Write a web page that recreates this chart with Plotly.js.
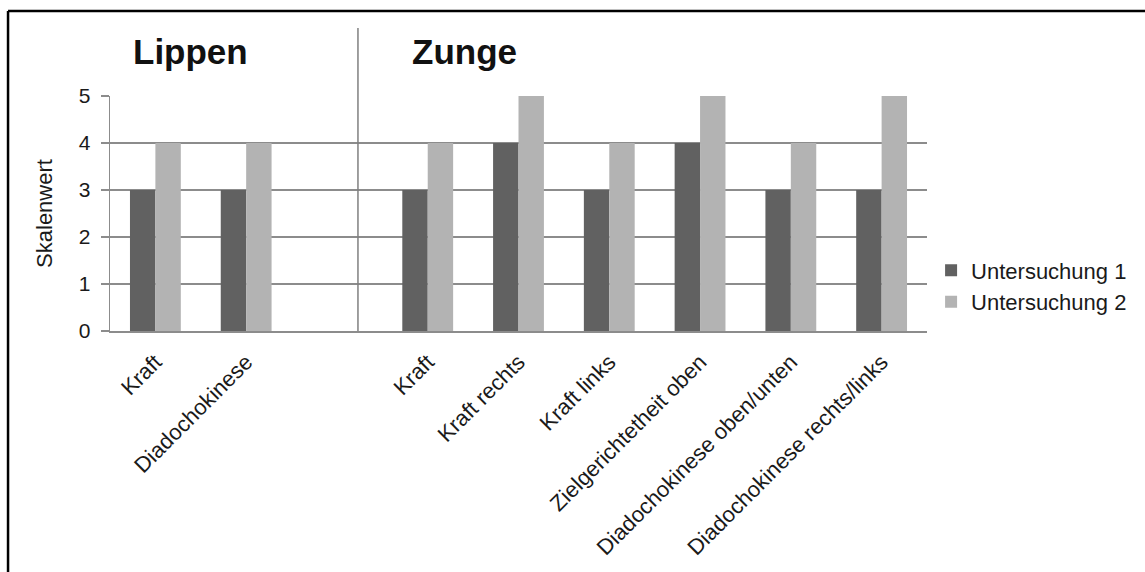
<!DOCTYPE html>
<html>
<head>
<meta charset="utf-8">
<script src="https://cdn.plot.ly/plotly-3.0.1.min.js"></script>
<style>
  html, body { margin: 0; padding: 0; background: #ffffff; }
  #chart { width: 1145px; height: 572px; }
</style>
</head>
<body>
<div id="chart"></div>
<script>
// ---- data ----
const categories = ["Kraft", "Diadochokinese", "", "Kraft", "Kraft rechts", "Kraft links",
                    "Zielgerichtetheit oben", "Diadochokinese oben/unten", "Diadochokinese rechts/links"];
const untersuchung1 = [3, 3, null, 3, 4, 3, 4, 3, 3];
const untersuchung2 = [4, 4, null, 4, 5, 4, 5, 4, 5];
const seriesNames = ["Untersuchung 1", "Untersuchung 2"];
const groupTitles = ["Lippen", "Zunge"];
const yTicks = [0, 1, 2, 3, 4, 5];

const xIdx = categories.map((c, i) => i);

const FONT = "Arial, 'Liberation Sans', sans-serif";
const GRID = "#8c8c8c";
const TXT = "#1a1a1a";

const traces = [
  { type: "bar", name: seriesNames[0], x: xIdx, y: untersuchung1,
    marker: { color: "#616161", line: { width: 0 } }, hoverinfo: "y" },
  { type: "bar", name: seriesNames[1], x: xIdx, y: untersuchung2,
    marker: { color: "#b3b3b3", line: { width: 0 } }, hoverinfo: "y" }
];

const layout = {
  width: 1145, height: 572,
  margin: { l: 110, r: 218, t: 96, b: 241, pad: 0 },
  paper_bgcolor: "#ffffff", plot_bgcolor: "#ffffff",
  barmode: "group", bargap: 0.44, bargroupgap: 0,
  font: { family: FONT, color: TXT, size: 20 },
  xaxis: {
    range: [-0.5, categories.length - 0.5],
    tickmode: "array", tickvals: xIdx, ticktext: categories,
    tickangle: -45, tickfont: { family: FONT, size: 22, color: TXT },
    ticklabelstandoff: 8,
    showgrid: false, zeroline: false,
    showline: true, linecolor: GRID, linewidth: 1.5,
    ticks: "", automargin: false
  },
  yaxis: {
    range: [0, 5], tickmode: "array", tickvals: yTicks,
    tickfont: { family: FONT, size: 21, color: TXT },
    ticklabelstandoff: 6,
    showgrid: true, gridcolor: GRID, gridwidth: 1.3,
    zeroline: false, showline: true, linecolor: GRID, linewidth: 1.3,
    ticks: "outside", ticklen: 8, tickcolor: GRID, tickwidth: 1.3,
    title: { text: "Skalenwert", font: { family: FONT, size: 22, color: TXT }, standoff: 20 },
    automargin: false
  },
  legend: {
    x: 1.005, xanchor: "left", y: 0.19, yanchor: "middle",
    font: { family: FONT, size: 22, color: TXT },
    itemwidth: 30, tracegroupgap: 0, bgcolor: "rgba(0,0,0,0)"
  },
  showlegend: true,
  annotations: [
    { text: "<b>" + groupTitles[0] + "</b>", xref: "paper", yref: "paper",
      x: 0.099, y: 1.19, xanchor: "center", yanchor: "middle", showarrow: false,
      font: { family: FONT, size: 35, color: "#111111" } },
    { text: "<b>" + groupTitles[1] + "</b>", xref: "paper", yref: "paper",
      x: 0.4345, y: 1.19, xanchor: "center", yanchor: "middle", showarrow: false,
      font: { family: FONT, size: 35, color: "#111111" } }
  ],
  shapes: [
    // divider between the two groups
    { type: "line", xref: "paper", yref: "paper", x0: 0.3035, x1: 0.3035, y0: 0, y1: 1.289,
      line: { color: "#808080", width: 1.5 } },
    // outer frame (left and top)
    { type: "line", xref: "paper", yref: "paper", x0: -0.1248, x1: -0.1248, y0: 1.3617, y1: -1.1,
      line: { color: "#000000", width: 2.5 } },
    { type: "line", xref: "paper", yref: "paper", x0: -0.1248, x1: 1.3, y0: 1.3617, y1: 1.3617,
      line: { color: "#000000", width: 2.5 } }
  ]
};

Plotly.newPlot("chart", traces, layout, { displayModeBar: false, staticPlot: true });
</script>
</body>
</html>
